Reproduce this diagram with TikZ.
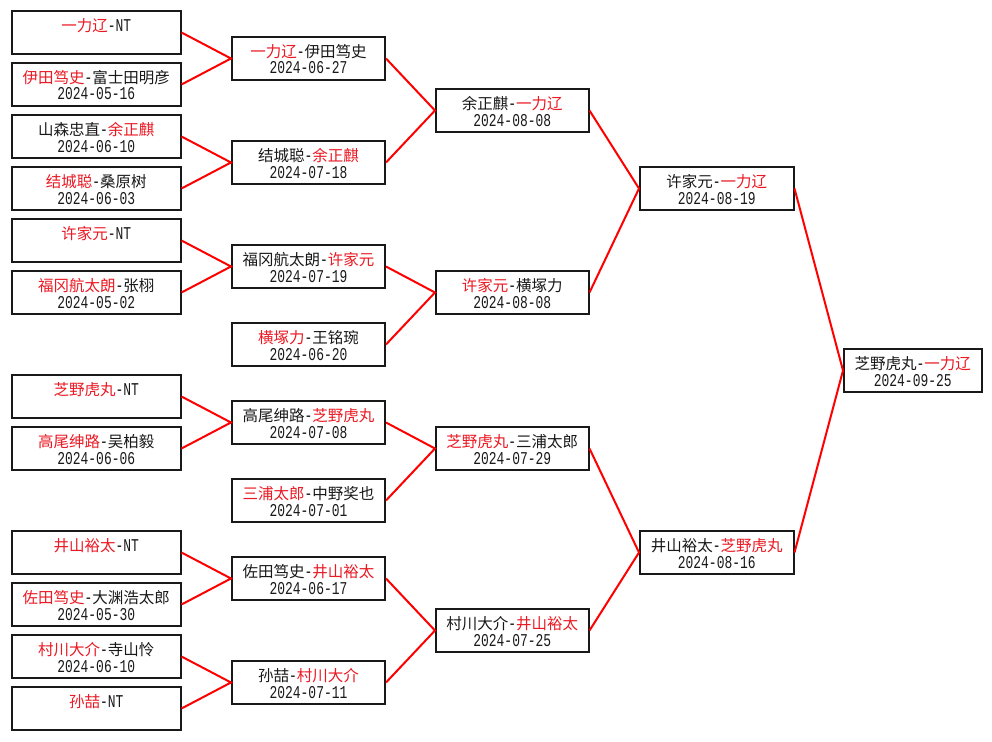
\documentclass[tikz,border=0pt]{standalone}
\usepackage{fontspec}
\newfontfamily\cjk{Noto Sans CJK SC}
\newfontfamily\mono[FakeStretch=0.72]{Liberation Mono}
\definecolor{win}{RGB}{235,25,35}
\definecolor{frame}{RGB}{25,25,25}
\newcommand\R[1]{\textcolor{win}{#1}}
\newcommand\M[1]{{\mono\fontsize{18}{18}\selectfont #1}}
\tikzset{
  box/.style={draw=frame, line width=2pt, inner sep=0pt, outer sep=1pt,
              minimum height=43pt, anchor=north west},
  lnone/.style={anchor=base, inner sep=0pt, text=black!90, text height=13pt, text depth=2pt,
                font=\cjk\fontsize{15.5}{16}\selectfont},
  lntwo/.style={anchor=base, inner sep=0pt, text=black!90, text height=11pt, text depth=0pt,
                font=\mono\fontsize{18}{18}\selectfont},
  conn/.style={draw=red, line width=2pt}
}
% name, x, top, outer width, line 1, line 2
\newcommand\gbox[6]{%
  \node[box, minimum width=#4pt-2pt] (#1) at (#2,#3) {};
  \node[lnone] (#1a) at (#2+#4/2,#3+21.5) {#5};
  \node[lntwo] (#1b) at (#2+#4/2,#3+38) {#6};}
\newcommand\gboxone[5]{%
  \node[box, minimum width=#4pt-2pt] (#1) at (#2,#3) {};
  \node[lnone] (#1a) at (#2+#4/2,#3+21.5) {#5};}
\begin{document}
\begin{tikzpicture}[x=1pt,y=-1pt]
\fill[white] (0,0) rectangle (992,741);
\useasboundingbox (0,0) rectangle (992,741);
% column 1
\gboxone{ca}{11}{10}{170.5}{\R{一力辽}\M{-NT}}
\gbox{cb}{11}{62}{170.5}{\R{伊田笃史}\M{-}富士田明彦}{2024-05-16}
\gbox{cc}{11}{114}{170.5}{山森忠直\M{-}\R{余正麒}}{2024-06-10}
\gbox{cd}{11}{166}{170.5}{\R{结城聪}\M{-}桑原树}{2024-06-03}
\gboxone{ce}{11}{218}{170.5}{\R{许家元}\M{-NT}}
\gbox{cf}{11}{270}{170.5}{\R{福冈航太朗}\M{-}张栩}{2024-05-02}
\gboxone{cg}{11}{374}{170.5}{\R{芝野虎丸}\M{-NT}}
\gbox{ch}{11}{426}{170.5}{\R{高尾绅路}\M{-}吴柏毅}{2024-06-06}
\gboxone{ci}{11}{530}{170.5}{\R{井山裕太}\M{-NT}}
\gbox{cj}{11}{582}{170.5}{\R{佐田笃史}\M{-}大渊浩太郎}{2024-05-30}
\gbox{ck}{11}{634}{170.5}{\R{村川大介}\M{-}寺山怜}{2024-06-10}
\gboxone{cl}{11}{686}{170.5}{\R{孙喆}\M{-NT}}
% column 2
\gbox{da}{231}{36}{155}{\R{一力辽}\M{-}伊田笃史}{2024-06-27}
\gbox{db}{231}{140}{155}{结城聪\M{-}\R{余正麒}}{2024-07-18}
\gbox{dc}{231}{244}{155}{福冈航太朗\M{-}\R{许家元}}{2024-07-19}
\gbox{dd}{231}{322}{155}{\R{横塚力}\M{-}王铭琬}{2024-06-20}
\gbox{de}{231}{400}{155}{高尾绅路\M{-}\R{芝野虎丸}}{2024-07-08}
\gbox{df}{231}{478}{155}{\R{三浦太郎}\M{-}中野奖也}{2024-07-01}
\gbox{dg}{231}{556}{155}{佐田笃史\M{-}\R{井山裕太}}{2024-06-17}
\gbox{dh}{231}{660}{155}{孙喆\M{-}\R{村川大介}}{2024-07-11}
% column 3
\gbox{ea}{435}{88}{154.5}{余正麒\M{-}\R{一力辽}}{2024-08-08}
\gbox{eb}{435}{270}{154.5}{\R{许家元}\M{-}横塚力}{2024-08-08}
\gbox{ec}{435}{426}{154.5}{\R{芝野虎丸}\M{-}三浦太郎}{2024-07-29}
\gbox{ed}{435}{608}{154.5}{村川大介\M{-}\R{井山裕太}}{2024-07-25}
% column 4
\gbox{fa}{639}{166}{155.5}{许家元\M{-}\R{一力辽}}{2024-08-19}
\gbox{fb}{639}{530}{155.5}{井山裕太\M{-}\R{芝野虎丸}}{2024-08-16}
% final
\gbox{ga}{843}{348}{139.5}{芝野虎丸\M{-}\R{一力辽}}{2024-09-25}
% connectors
\draw[conn] (ca.east) -- (da.west) -- (cb.east);
\draw[conn] (cc.east) -- (db.west) -- (cd.east);
\draw[conn] (ce.east) -- (dc.west) -- (cf.east);
\draw[conn] (cg.east) -- (de.west) -- (ch.east);
\draw[conn] (ci.east) -- (dg.west) -- (cj.east);
\draw[conn] (ck.east) -- (dh.west) -- (cl.east);
\draw[conn] (da.east) -- (ea.west) -- (db.east);
\draw[conn] (dc.east) -- (eb.west) -- (dd.east);
\draw[conn] (de.east) -- (ec.west) -- (df.east);
\draw[conn] (dg.east) -- (ed.west) -- (dh.east);
\draw[conn] (ea.east) -- (fa.west) -- (eb.east);
\draw[conn] (ec.east) -- (fb.west) -- (ed.east);
\draw[conn] (fa.east) -- (ga.west) -- (fb.east);
\end{tikzpicture}
\end{document}
